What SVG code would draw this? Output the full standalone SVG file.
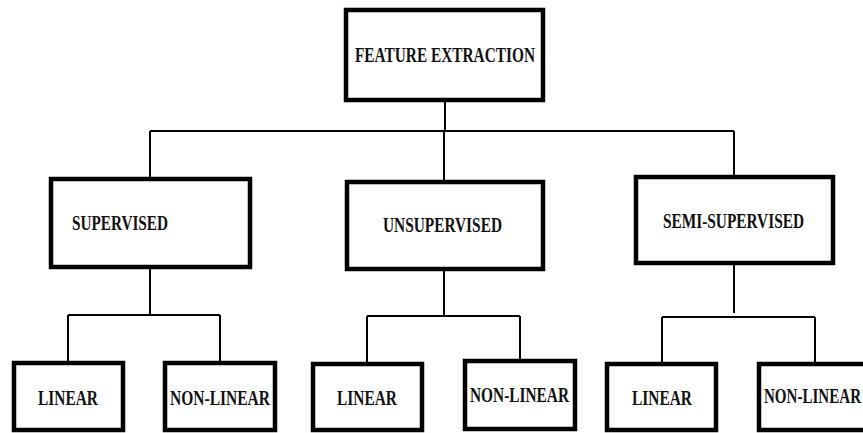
<svg xmlns="http://www.w3.org/2000/svg" width="863" height="433" viewBox="0 0 863 433">
<style>
.box{fill:#fff;stroke:#000;stroke-width:4.5}
.lbl{font-family:'Liberation Serif','DejaVu Serif',serif;font-weight:700;font-size:15px;fill:#111}
.ln{stroke:#000;stroke-width:2;fill:none}
</style>
<rect width="863" height="433" fill="#fff"/>
<g id="connectors">
<path class="ln" d="M445 102V131M150 131H734M150 131V177M444 131V180M734 131V175"/>
<path class="ln" d="M150 269V315M68 315H220M68 315V361M220 315V361"/>
<path class="ln" d="M444 271V316M367 316H520M367 316V362M520 316V359"/>
<path class="ln" d="M734 265V313M662 317H815M662 317V362M815 317V362"/>
</g>
<g id="feature-extraction"><rect class="box" x="346" y="10" width="197" height="90"/><text class="lbl" transform="translate(355,62) scale(1,1.45)" textLength="180" lengthAdjust="spacingAndGlyphs">FEATURE EXTRACTION</text></g>
<g id="supervised"><rect class="box" x="51" y="179" width="199" height="88"/><text class="lbl" transform="translate(72,230) scale(1,1.45)" textLength="96" lengthAdjust="spacingAndGlyphs">SUPERVISED</text></g>
<g id="unsupervised"><rect class="box" x="347" y="182" width="196" height="87"/><text class="lbl" transform="translate(383,232) scale(1,1.45)" textLength="119" lengthAdjust="spacingAndGlyphs">UNSUPERVISED</text></g>
<g id="semi-supervised"><rect class="box" x="636" y="177" width="197" height="86"/><text class="lbl" transform="translate(663,228) scale(1,1.45)" textLength="141" lengthAdjust="spacingAndGlyphs">SEMI-SUPERVISED</text></g>
<g id="sup-linear"><rect class="box" x="14" y="363" width="109" height="67"/><text class="lbl" transform="translate(38,405) scale(1,1.45)" textLength="60" lengthAdjust="spacingAndGlyphs">LINEAR</text></g>
<g id="sup-nonlinear"><rect class="box" x="165" y="363" width="110" height="67"/><text class="lbl" transform="translate(170,405) scale(1,1.45)" textLength="100" lengthAdjust="spacingAndGlyphs">NON-LINEAR</text></g>
<g id="unsup-linear"><rect class="box" x="313" y="364" width="109" height="66"/><text class="lbl" transform="translate(337,405) scale(1,1.45)" textLength="60" lengthAdjust="spacingAndGlyphs">LINEAR</text></g>
<g id="unsup-nonlinear"><rect class="box" x="465" y="361" width="110" height="68"/><text class="lbl" transform="translate(470,402) scale(1,1.45)" textLength="99" lengthAdjust="spacingAndGlyphs">NON-LINEAR</text></g>
<g id="semi-linear"><rect class="box" x="607" y="364" width="109" height="66"/><text class="lbl" transform="translate(632,405) scale(1,1.45)" textLength="60" lengthAdjust="spacingAndGlyphs">LINEAR</text></g>
<g id="semi-nonlinear"><rect class="box" x="759" y="364" width="110" height="66"/><text class="lbl" transform="translate(764,403) scale(1,1.45)" textLength="97" lengthAdjust="spacingAndGlyphs">NON-LINEAR</text></g>
</svg>
